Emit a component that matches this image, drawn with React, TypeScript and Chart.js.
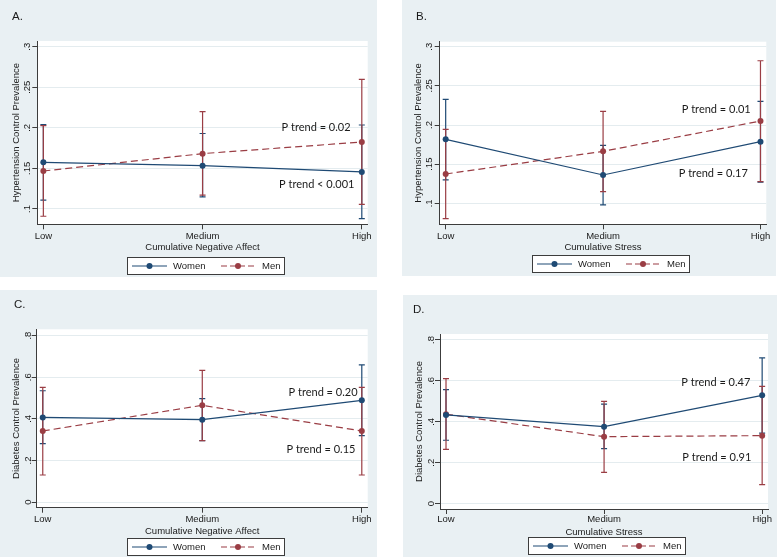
import React, { useEffect, useRef } from 'react';
import { Chart, registerables } from 'chart.js';

Chart.register(...registerables);

// ---------------- data ----------------
const levels = ['Low', 'Medium', 'High'];
const seriesNames = ['Women', 'Men'];

const hypTicks = [0.1, 0.15, 0.2, 0.25, 0.3];
const hypTickLabels = ['.1', '.15', '.2', '.25', '.3'];
const diaTicks = [0, 0.2, 0.4, 0.6, 0.8];
const diaTickLabels = ['0', '.2', '.4', '.6', '.8'];

// A. Hypertension control x Cumulative Negative Affect
const aWomen = [0.1575, 0.1534, 0.1456];
const aWomenLo = [0.111, 0.115, 0.088];
const aWomenHi = [0.204, 0.193, 0.2035];
const aMen = [0.1468, 0.1682, 0.1825];
const aMenLo = [0.091, 0.117, 0.1057];
const aMenHi = [0.2027, 0.2199, 0.2597];
const aNotes = ['P trend = 0.02', 'P trend < 0.001'];

// B. Hypertension control x Cumulative Stress
const bWomen = [0.1817, 0.1362, 0.1787];
const bWomenLo = [0.13, 0.098, 0.127];
const bWomenHi = [0.2328, 0.174, 0.2302];
const bMen = [0.1374, 0.1664, 0.2051];
const bMenLo = [0.0804, 0.1149, 0.1277];
const bMenHi = [0.1945, 0.2174, 0.2821];
const bNotes = ['P trend = 0.01', 'P trend = 0.17'];

// C. Diabetes control x Cumulative Negative Affect
const cWomen = [0.407, 0.396, 0.489];
const cWomenLo = [0.281, 0.295, 0.319];
const cWomenHi = [0.535, 0.497, 0.659];
const cMen = [0.3415, 0.465, 0.3415];
const cMenLo = [0.13, 0.295, 0.13];
const cMenHi = [0.5515, 0.633, 0.5515];
const cNotes = ['P trend = 0.20', 'P trend = 0.15'];

// D. Diabetes control x Cumulative Stress
const dWomen = [0.4334, 0.3764, 0.5295];
const dWomenLo = [0.31, 0.269, 0.345];
const dWomenHi = [0.557, 0.486, 0.712];
const dMen = [0.437, 0.3275, 0.3324];
const dMenLo = [0.2655, 0.153, 0.093];
const dMenHi = [0.611, 0.5, 0.5735];
const dNotes = ['P trend = 0.47', 'P trend = 0.91'];

// ---------------- styles ----------------
const NAVY = '#1f4a74';
const MAROON = '#9a3d44';
const AXIS = '#3c3c3c';
const GRID = '#e4ecef';
const PANEL_BG = '#e9f0f3';
const TEXT = '#1a1a1a';
const FONT = '"Liberation Sans", Arial, Helvetica, sans-serif';
const NOTE_FONT = 'Lato, "Liberation Sans", Arial, sans-serif';

type PanelCfg = {
  key: string;
  left: number; top: number; w: number; h: number;
  area: { l: number; t: number; r: number; b: number };
  yMin: number; yMax: number;
  yTicks: number[]; yLabels: string[];
  yTitle: string; xTitle: string;
  yLabelPad: number; xLabelPad: number;
  tag: string; tagPos: [number, number];
  legendPos: [number, number];
  women: number[]; womenLo: number[]; womenHi: number[];
  men: number[]; menLo: number[]; menHi: number[];
  notes: string[]; notePos: [number, number][];
};

const panels: PanelCfg[] = [
  {
    key: 'A', left: 0, top: 0, w: 377, h: 277,
    area: { l: 37.3, t: 41, r: 367.7, b: 224.3 },
    yMin: 0.0811, yMax: 0.307, yTicks: hypTicks, yLabels: hypTickLabels,
    yTitle: 'Hypertension Control Prevalence', xTitle: 'Cumulative Negative Affect',
    yLabelPad: -1.6, xLabelPad: 1.5,
    tag: 'A.', tagPos: [12, 17], legendPos: [127, 257],
    women: aWomen, womenLo: aWomenLo, womenHi: aWomenHi,
    men: aMen, menLo: aMenLo, menHi: aMenHi,
    notes: aNotes, notePos: [[1.713, 0.2007], [1.717, 0.1297]],
  },
  {
    key: 'B', left: 402, top: 0, w: 374, h: 276,
    area: { l: 37.7, t: 41.7, r: 364.3, b: 224.3 },
    yMin: 0.0732, yMax: 0.3064, yTicks: hypTicks, yLabels: hypTickLabels,
    yTitle: 'Hypertension Control Prevalence', xTitle: 'Cumulative Stress',
    yLabelPad: -1.6, xLabelPad: 1.5,
    tag: 'B.', tagPos: [14, 17], legendPos: [130, 255],
    women: bWomen, womenLo: bWomenLo, womenHi: bWomenHi,
    men: bMen, menLo: bMenLo, menHi: bMenHi,
    notes: bNotes, notePos: [[1.719, 0.2205], [1.7, 0.1376]],
  },
  {
    key: 'C', left: 0, top: 290, w: 377, h: 267,
    area: { l: 36.7, t: 39.3, r: 367.7, b: 217.7 },
    yMin: -0.0273, yMax: 0.8305, yTicks: diaTicks, yLabels: diaTickLabels,
    yTitle: 'Diabetes Control Prevalence', xTitle: 'Cumulative Negative Affect',
    yLabelPad: -0.6, xLabelPad: 0.8,
    tag: 'C.', tagPos: [14, 15], legendPos: [127, 248],
    women: cWomen, womenLo: cWomenLo, womenHi: cWomenHi,
    men: cMen, menLo: cMenLo, menHi: cMenHi,
    notes: cNotes, notePos: [[1.757, 0.529], [1.744, 0.2516]],
  },
  {
    key: 'D', left: 403, top: 295, w: 374, h: 262,
    area: { l: 37, t: 39, r: 365, b: 214 },
    yMin: -0.026, yMax: 0.829, yTicks: diaTicks, yLabels: diaTickLabels,
    yTitle: 'Diabetes Control Prevalence', xTitle: 'Cumulative Stress',
    yLabelPad: -0.6, xLabelPad: 0,
    tag: 'D.', tagPos: [10, 15], legendPos: [125, 242],
    women: dWomen, womenLo: dWomenLo, womenHi: dWomenHi,
    men: dMen, menLo: dMenLo, menHi: dMenHi,
    notes: dNotes, notePos: [[1.707, 0.5947], [1.713, 0.2268]],
  },
];

const X_AXIS_H = 30;

function Panel({ cfg }: { cfg: PanelCfg }) {
  const ref = useRef<HTMLCanvasElement | null>(null);

  useEffect(() => {
    const canvas = ref.current;
    if (!canvas) return;

    const series = [
      { label: seriesNames[0], values: cfg.women, lo: cfg.womenLo, hi: cfg.womenHi, color: NAVY, dash: [] as number[] },
      { label: seriesNames[1], values: cfg.men, lo: cfg.menLo, hi: cfg.menHi, color: MAROON, dash: [7, 4] },
    ];

    const decor = {
      id: 'decor' + cfg.key,
      beforeDraw(chart: any) {
        const { ctx, chartArea } = chart;
        ctx.save();
        ctx.fillStyle = '#ffffff';
        ctx.fillRect(chartArea.left, chartArea.top, chartArea.right - chartArea.left, chartArea.bottom - chartArea.top);
        ctx.restore();
      },
      beforeDatasetsDraw(chart: any) {
        const { ctx } = chart;
        const xs = chart.scales.x;
        const ys = chart.scales.y;
        chart.data.datasets.forEach((ds: any) => {
          ctx.save();
          ctx.strokeStyle = ds.borderColor;
          ctx.lineWidth = 1.2;
          ds.ciLo.forEach((lo: number, i: number) => {
            const px = xs.getPixelForValue(i);
            const y1 = ys.getPixelForValue(lo);
            const y2 = ys.getPixelForValue(ds.ciHi[i]);
            ctx.beginPath();
            ctx.moveTo(px, y1); ctx.lineTo(px, y2);
            ctx.moveTo(px - 3, y1); ctx.lineTo(px + 3, y1);
            ctx.moveTo(px - 3, y2); ctx.lineTo(px + 3, y2);
            ctx.stroke();
          });
          ctx.restore();
        });
      },
      afterDraw(chart: any) {
        const { ctx } = chart;
        const xs = chart.scales.x;
        const ys = chart.scales.y;
        ctx.save();
        // panel tag
        ctx.fillStyle = TEXT;
        ctx.font = `11.5px ${FONT}`;
        ctx.textAlign = 'left';
        ctx.textBaseline = 'middle';
        ctx.fillText(cfg.tag, cfg.tagPos[0], cfg.tagPos[1]);
        // p-trend notes
        ctx.font = `11px ${NOTE_FONT}`;
        ctx.textAlign = 'center';
        cfg.notes.forEach((t, i) => {
          const [vx, vy] = cfg.notePos[i];
          ctx.fillText(t, xs.getPixelForValue(vx), ys.getPixelForValue(vy));
        });
        // legend
        const [lx, ly] = cfg.legendPos;
        const lw = 158, lh = 18;
        ctx.fillStyle = '#ffffff';
        ctx.fillRect(lx, ly, lw, lh);
        ctx.strokeStyle = AXIS;
        ctx.lineWidth = 1;
        ctx.strokeRect(lx + 0.5, ly + 0.5, lw - 1, lh - 1);
        const my = ly + lh / 2;
        const items = [
          { x0: lx + 5, x1: lx + 40, tx: lx + 46, s: series[0], dash: [] as number[] },
          { x0: lx + 94, x1: lx + 128, tx: lx + 135, s: series[1], dash: [6, 3] },
        ];
        items.forEach((it) => {
          ctx.strokeStyle = it.s.color;
          ctx.lineWidth = 1.2;
          ctx.setLineDash(it.dash);
          ctx.beginPath();
          ctx.moveTo(it.x0, my); ctx.lineTo(it.x1, my);
          ctx.stroke();
          ctx.setLineDash([]);
          ctx.fillStyle = it.s.color;
          ctx.beginPath();
          ctx.arc((it.x0 + it.x1) / 2, my, 3, 0, Math.PI * 2);
          ctx.fill();
          ctx.fillStyle = TEXT;
          ctx.font = `9.5px ${FONT}`;
          ctx.textAlign = 'left';
          ctx.textBaseline = 'middle';
          ctx.fillText(it.s.label, it.tx, my + 0.5);
        });
        ctx.restore();
      },
    };

    const chart = new Chart(canvas, {
      type: 'line',
      data: {
        datasets: series.map((s) => ({
          label: s.label,
          data: s.values.map((v, i) => ({ x: i, y: v })),
          ciLo: s.lo,
          ciHi: s.hi,
          borderColor: s.color,
          backgroundColor: s.color,
          borderWidth: 1.2,
          borderDash: s.dash,
          pointRadius: 3,
          pointBorderWidth: 0,
          pointBackgroundColor: s.color,
          tension: 0,
          fill: false,
        })) as any,
      },
      options: {
        responsive: false,
        maintainAspectRatio: false,
        animation: false,
        events: [],
        layout: {
          padding: {
            left: 0,
            top: cfg.area.t,
            right: cfg.w - cfg.area.r,
            bottom: cfg.h - cfg.area.b - X_AXIS_H,
          },
        },
        plugins: { legend: { display: false }, tooltip: { enabled: false } },
        scales: {
          x: {
            type: 'linear',
            min: -0.038,
            max: 2.037,
            afterBuildTicks: (s: any) => { s.ticks = levels.map((_, i) => ({ value: i })); },
            afterFit: (s: any) => { s.height = X_AXIS_H; },
            ticks: {
              autoSkip: false,
              maxRotation: 0,
              minRotation: 0,
              padding: cfg.xLabelPad,
              color: TEXT,
              font: { size: 9.5, family: FONT },
              callback: (_v: any, i: number) => levels[i],
            },
            grid: { drawOnChartArea: false, drawTicks: true, tickLength: 5, tickColor: AXIS, color: AXIS },
            border: { display: true, color: AXIS, width: 1 },
            title: {
              display: true, text: cfg.xTitle, color: TEXT,
              font: { size: 9.5, family: FONT }, padding: { top: 0, bottom: 1 },
            },
          },
          y: {
            type: 'linear',
            min: cfg.yMin,
            max: cfg.yMax,
            afterBuildTicks: (s: any) => { s.ticks = cfg.yTicks.map((v) => ({ value: v })); },
            afterFit: (s: any) => { s.width = cfg.area.l; },
            ticks: {
              minRotation: 90,
              maxRotation: 90,
              crossAlign: 'center',
              padding: cfg.yLabelPad,
              color: TEXT,
              font: { size: 9.5, family: FONT },
              callback: (_v: any, i: number) => cfg.yLabels[i],
            },
            grid: { color: GRID, lineWidth: 1, drawTicks: true, tickLength: 5, tickColor: AXIS },
            border: { display: true, color: AXIS, width: 1 },
            title: {
              display: true, text: cfg.yTitle, color: TEXT,
              font: { size: 9.5, family: FONT }, padding: { top: 10.6, bottom: 0 },
            },
          },
        },
      } as any,
      plugins: [decor],
    });

    return () => chart.destroy();
  }, [cfg]);

  return (
    <div
      style={{
        position: 'absolute',
        left: cfg.left,
        top: cfg.top,
        width: cfg.w,
        height: cfg.h,
        background: PANEL_BG,
      }}
    >
      <canvas ref={ref} width={cfg.w} height={cfg.h} style={{ display: 'block', width: cfg.w, height: cfg.h }} />
    </div>
  );
}

export default function App() {
  return (
    <div style={{ position: 'absolute', left: 0, top: 0, width: 778, height: 557, background: '#ffffff' }}>
      {panels.map((p) => (
        <Panel key={p.key} cfg={p} />
      ))}
    </div>
  );
}
